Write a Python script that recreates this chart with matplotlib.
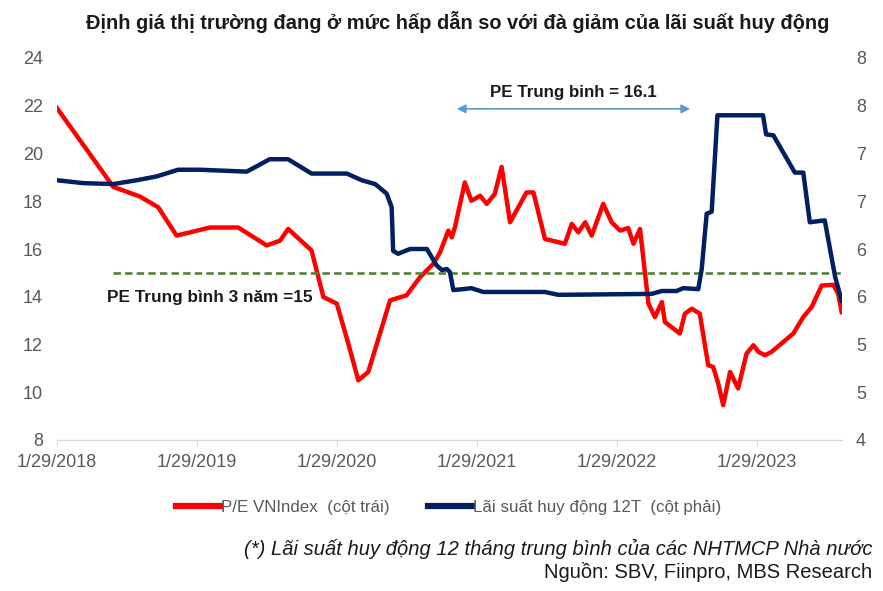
import pandas as pd
import numpy as np
import matplotlib
matplotlib.use("Agg")
import matplotlib.pyplot as plt
import matplotlib.dates as mdates
from matplotlib.lines import Line2D

plt.rcParams['font.family'] = ['Liberation Sans', 'DejaVu Sans']

# ----------------------------------------
# 1. Data
# ----------------------------------------
pe_dates = [
    "2018-01-29", "2018-06-25", "2018-09-02", "2018-10-20", "2018-12-07", "2019-03-04",
    "2019-05-17", "2019-07-30", "2019-09-03", "2019-09-24", "2019-11-24", "2019-12-25",
    "2020-01-29", "2020-02-28", "2020-03-25", "2020-04-20", "2020-06-16", "2020-07-29",
    "2020-09-02", "2020-10-07", "2020-10-24", "2020-11-15", "2020-11-24", "2020-12-02",
    "2020-12-28", "2021-01-14", "2021-02-06", "2021-02-23", "2021-03-16", "2021-04-03",
    "2021-04-25", "2021-06-07", "2021-06-25", "2021-07-25", "2021-09-15", "2021-10-03",
    "2021-10-20", "2021-11-07", "2021-11-24", "2021-12-24", "2022-01-15", "2022-02-06",
    "2022-02-27", "2022-03-13", "2022-03-30", "2022-04-21", "2022-05-08", "2022-05-26",
    "2022-06-03", "2022-07-12", "2022-07-25", "2022-08-12", "2022-09-02", "2022-09-24",
    "2022-10-07", "2022-10-20", "2022-11-02", "2022-11-20", "2022-12-11", "2023-01-02",
    "2023-01-20", "2023-02-02", "2023-02-19", "2023-03-08", "2023-05-04", "2023-05-30",
    "2023-06-21", "2023-07-17", "2023-08-16", "2023-08-29", "2023-09-07",
]
pe_values = [
    21.9, 18.6, 18.2, 17.75, 16.56, 16.9,
    16.9, 16.15, 16.35, 16.84, 15.94, 13.99,
    13.71, 12.04, 10.5, 10.85, 13.85, 14.06,
    14.82, 15.38, 15.85, 16.77, 16.49, 16.9,
    18.79, 18.02, 18.23, 17.89, 18.3, 19.44,
    17.12, 18.37, 18.37, 16.42, 16.22, 17.05,
    16.7, 17.12, 16.56, 17.89, 17.12, 16.77,
    16.88, 16.22, 16.84, 13.71, 13.15, 13.78,
    12.94, 12.46, 13.29, 13.5, 13.29, 11.13,
    11.06, 10.37, 9.46, 10.85, 10.16, 11.62,
    11.97, 11.69, 11.55, 11.69, 12.46, 13.15,
    13.57, 14.47, 14.5, 14.13, 13.36,
]

rate_dates = [
    "2018-01-29", "2018-04-07", "2018-06-25", "2018-08-25", "2018-10-16", "2018-12-11",
    "2019-02-06", "2019-06-08", "2019-08-07", "2019-09-24", "2019-11-24", "2020-02-24",
    "2020-04-03", "2020-05-08", "2020-06-07", "2020-06-20", "2020-06-24", "2020-07-07",
    "2020-08-07", "2020-09-20", "2020-10-15", "2020-10-29", "2020-11-11", "2020-11-19",
    "2020-11-28", "2020-12-24", "2021-01-14", "2021-02-14", "2021-07-25", "2021-08-29",
    "2022-04-29", "2022-05-26", "2022-07-03", "2022-07-21", "2022-08-29", "2022-09-07",
    "2022-09-20", "2022-10-03", "2022-10-18", "2023-02-14", "2023-02-22", "2023-03-13",
    "2023-05-08", "2023-05-30", "2023-06-16", "2023-07-25", "2023-08-21", "2023-09-07",
]
rate_values = [
    6.72, 6.69, 6.68, 6.72, 6.76, 6.83,
    6.83, 6.81, 6.94, 6.94, 6.79, 6.79,
    6.72, 6.68, 6.58, 6.44, 5.98, 5.95,
    6.0, 6.0, 5.83, 5.78, 5.79, 5.76,
    5.57, 5.58, 5.59, 5.55, 5.55, 5.52,
    5.53, 5.56, 5.56, 5.59, 5.58, 5.79,
    6.37, 6.39, 7.4, 7.4, 7.2, 7.19,
    6.8, 6.8, 6.28, 6.3, 5.71, 5.46,
]

x_tick_dates = ["2018-01-29", "2019-01-29", "2020-01-29", "2021-01-29", "2022-01-29", "2023-01-29"]
x_tick_labels = ["1/29/2018", "1/29/2019", "1/29/2020", "1/29/2021", "1/29/2022", "1/29/2023"]
left_ticks = [8, 10, 12, 14, 16, 18, 20, 22, 24]
right_ticks = [4.0, 4.5, 5.0, 5.5, 6.0, 6.5, 7.0, 7.5, 8.0]
right_tick_labels = ["4", "5", "5", "6", "6", "7", "7", "8", "8"]

pe_avg_3y = 15
pe_avg_3y_start = "2018-06-25"
pe_avg_period = ("2020-12-07", "2022-08-08")

pe_dates = pd.to_datetime(pe_dates)
rate_dates = pd.to_datetime(rate_dates)
x_ticks = pd.to_datetime(x_tick_dates)
x_min, x_max = pd.Timestamp("2018-01-29"), pd.Timestamp("2023-09-08")

# ----------------------------------------
# 2. Plot
# ----------------------------------------
red = '#FF0000'
navy = '#002060'
green = '#548235'
grey_txt = '#595959'

fig = plt.figure(figsize=(8.83, 5.91), dpi=100)
ax = fig.add_axes([57 / 883, 1 - 440 / 591, (842 - 57) / 883, (440 - 58) / 591])
ax2 = ax.twinx()

ax.plot(pe_dates, pe_values, color=red, linewidth=3.2, solid_joinstyle='round', zorder=3)
ax.hlines(pe_avg_3y, pd.Timestamp(pe_avg_3y_start), x_max, colors=green, linewidth=1.9,
          linestyles=(0, (2.8, 1.6)), zorder=4)
ax2.plot(rate_dates, rate_values, color=navy, linewidth=3.2, solid_joinstyle='round', zorder=3)

ax.set_xlim(x_min, x_max)
ax.set_ylim(8, 24)
ax2.set_ylim(4, 8)

ax.set_xticks(x_ticks)
ax.set_xticklabels(x_tick_labels)
ax.set_yticks(left_ticks)
ax.set_yticklabels([str(v) for v in left_ticks])
ax2.set_yticks(right_ticks)
ax2.set_yticklabels(right_tick_labels)

for a in (ax, ax2):
    for s in a.spines.values():
        s.set_visible(False)
ax.spines['bottom'].set_visible(True)
ax.spines['bottom'].set_color('#D9D9D9')
ax.spines['bottom'].set_linewidth(1.0)

ax.tick_params(axis='x', length=4, color='#D9D9D9', pad=6, labelsize=13, labelcolor=grey_txt)
ax.tick_params(axis='y', length=0, pad=10, labelsize=13, labelcolor=grey_txt)
ax2.tick_params(axis='y', length=0, pad=10, labelsize=13, labelcolor=grey_txt)

# annotations
ax.annotate('', xy=(pd.Timestamp(pe_avg_period[1]), 21.87), xytext=(pd.Timestamp(pe_avg_period[0]), 21.87),
            arrowprops=dict(arrowstyle='<|-|>', color='#5B9BD5', lw=1.2, mutation_scale=13,
                            shrinkA=0, shrinkB=0))
mid = pd.Timestamp(pe_avg_period[0]) + (pd.Timestamp(pe_avg_period[1]) - pd.Timestamp(pe_avg_period[0])) / 2
ax.text(mid, 22.55, 'PE Trung binh = 16.1', ha='center', va='center', fontsize=12.2,
        fontweight='bold', color='#1A1A1A')
ax.text(pd.Timestamp("2018-06-08"), 13.97, 'PE Trung bình 3 năm =15', ha='left', va='center',
        fontsize=12.4, fontweight='bold', color='#1A1A1A')

fig.text(0.518, 1 - 22 / 591, 'Định giá thị trường đang ở mức hấp dẫn so với đà giảm của lãi suất huy động',
         ha='center', va='center', fontsize=14.4, fontweight='bold', color='#1A1A1A')

handles = [Line2D([], [], color=red, linewidth=4.5), Line2D([], [], color=navy, linewidth=4.5)]
labels = ['P/E VNIndex  (cột trái)', 'Lãi suất huy động 12T  (cột phải)']
leg = fig.legend(handles, labels, loc='center', bbox_to_anchor=(0.508, 1 - 507 / 591), ncol=2,
                 frameon=False, fontsize=12.2, handlelength=2.6, handletextpad=0.05, columnspacing=2.3)
for t in leg.get_texts():
    t.set_color(grey_txt)

fig.text(872 / 883, 1 - 549 / 591, '(*) Lãi suất huy động 12 tháng trung bình của các NHTMCP Nhà nước',
         ha='right', va='center', fontsize=14.5, fontstyle='italic', color='#1A1A1A')
fig.text(872 / 883, 1 - 572 / 591, 'Nguồn: SBV, Fiinpro, MBS Research',
         ha='right', va='center', fontsize=14.5, color='#1A1A1A')

fig.savefig('out.png', dpi=100)
